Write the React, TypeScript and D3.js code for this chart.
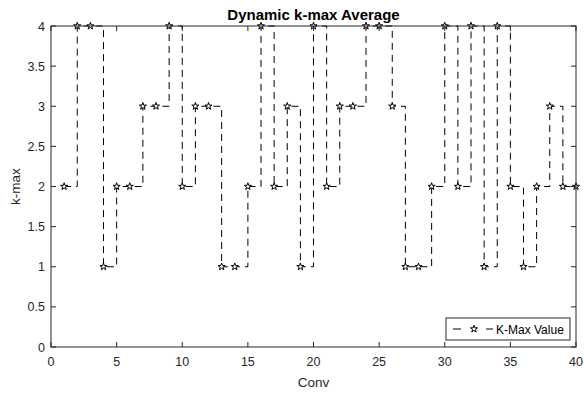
import { useEffect, useRef } from "react"
import * as d3 from "d3"

const convs = d3.range(1, 41)
const kmax = [2, 4, 4, 1, 2, 2, 3, 3, 4, 2, 3, 3, 1, 1, 2, 4, 2, 3, 1, 4, 2, 3, 3, 4, 4, 3, 1, 1, 2, 4, 2, 4, 1, 4, 2, 1, 2, 3, 2, 2]
const xTicks = [0, 5, 10, 15, 20, 25, 30, 35, 40]
const yTicks = [0, 0.5, 1, 1.5, 2, 2.5, 3, 3.5, 4]

export default function App() {
  const svgRef = useRef<SVGSVGElement | null>(null)

  useEffect(() => {
    if (!svgRef.current) return
    const root = d3.select(svgRef.current)
    root.selectAll("*").remove()

    const W = 584
    const H = 394
    const margin = { top: 26, right: 8, bottom: 47, left: 51 }
    const width = W - margin.left - margin.right
    const height = H - margin.top - margin.bottom
    const axisColor = "#262626"
    const font = "'Liberation Sans', Arial, sans-serif"

    root.append("rect").attr("width", W).attr("height", H).attr("fill", "#fff")
    const svg = root.append("g").attr("transform", `translate(${margin.left},${margin.top})`)

    const x = d3.scaleLinear().domain([0, 40]).range([0, width])
    const y = d3.scaleLinear().domain([0, 4]).range([height, 0])

    const data = convs.map((c, i) => ({ c, v: kmax[i] }))

    // stairs line
    const line = d3
      .line<{ c: number; v: number }>()
      .x((d) => x(d.c))
      .y((d) => y(d.v))
      .curve(d3.curveStepAfter)

    svg
      .append("path")
      .datum(data)
      .attr("d", line)
      .attr("fill", "none")
      .attr("stroke", "#000")
      .attr("stroke-width", 1)
      .attr("stroke-dasharray", "7,5")

    // pentagram marker
    const star = d3.symbol(d3.symbolStar, 16)
    svg
      .selectAll(".mk")
      .data(data)
      .enter()
      .append("path")
      .attr("class", "mk")
      .attr("d", star)
      .attr("transform", (d) => `translate(${x(d.c)},${y(d.v)})`)
      .attr("fill", "#fff")
      .attr("stroke", "#000")
      .attr("stroke-width", 1)

    // box and ticks
    svg
      .append("rect")
      .attr("width", width)
      .attr("height", height)
      .attr("fill", "none")
      .attr("stroke", axisColor)
      .attr("stroke-width", 1)

    const tl = 5
    xTicks.forEach((t) => {
      svg.append("line").attr("x1", x(t)).attr("x2", x(t)).attr("y1", height).attr("y2", height - tl).attr("stroke", axisColor)
      svg.append("line").attr("x1", x(t)).attr("x2", x(t)).attr("y1", 0).attr("y2", tl).attr("stroke", axisColor)
      svg
        .append("text")
        .attr("x", x(t))
        .attr("y", height + 19)
        .attr("text-anchor", "middle")
        .attr("font-family", font)
        .attr("font-size", 12.5)
        .attr("fill", axisColor)
        .text(t)
    })
    yTicks.forEach((t) => {
      svg.append("line").attr("x1", 0).attr("x2", tl).attr("y1", y(t)).attr("y2", y(t)).attr("stroke", axisColor)
      svg.append("line").attr("x1", width).attr("x2", width - tl).attr("y1", y(t)).attr("y2", y(t)).attr("stroke", axisColor)
      svg
        .append("text")
        .attr("x", -6)
        .attr("y", y(t) + 4.5)
        .attr("text-anchor", "end")
        .attr("font-family", font)
        .attr("font-size", 12.5)
        .attr("fill", axisColor)
        .text(t)
    })

    // labels
    svg
      .append("text")
      .attr("x", width / 2)
      .attr("y", -6)
      .attr("text-anchor", "middle")
      .attr("font-family", font)
      .attr("font-size", 15)
      .attr("font-weight", "bold")
      .attr("fill", "#000")
      .text("Dynamic k-max Average")
    svg
      .append("text")
      .attr("x", width / 2)
      .attr("y", height + 40)
      .attr("text-anchor", "middle")
      .attr("font-family", font)
      .attr("font-size", 13.5)
      .attr("fill", axisColor)
      .text("Conv")
    svg
      .append("text")
      .attr("transform", "rotate(-90)")
      .attr("x", -height / 2)
      .attr("y", -31)
      .attr("text-anchor", "middle")
      .attr("font-family", font)
      .attr("font-size", 13.5)
      .attr("fill", axisColor)
      .text("k-max")

    // legend
    const lg = svg.append("g").attr("transform", `translate(${446 - margin.left},${318 - margin.top})`)
    lg.append("rect").attr("width", 124).attr("height", 22).attr("fill", "#fff").attr("stroke", axisColor)
    lg.append("line").attr("x1", 7).attr("x2", 15).attr("y1", 11).attr("y2", 11).attr("stroke", "#000")
    lg.append("line").attr("x1", 40).attr("x2", 47).attr("y1", 11).attr("y2", 11).attr("stroke", "#000")
    lg.append("path").attr("d", star).attr("transform", "translate(28,11)").attr("fill", "#fff").attr("stroke", "#000")
    lg.append("text")
      .attr("x", 50)
      .attr("y", 15.5)
      .attr("font-family", font)
      .attr("font-size", 12)
      .attr("fill", "#000")
      .text("K-Max Value")
  }, [])

  return (
    <svg
      ref={svgRef}
      width={584}
      height={394}
      style={{ display: "block", position: "fixed", left: 0, top: 0 }}
    ></svg>
  )
}
